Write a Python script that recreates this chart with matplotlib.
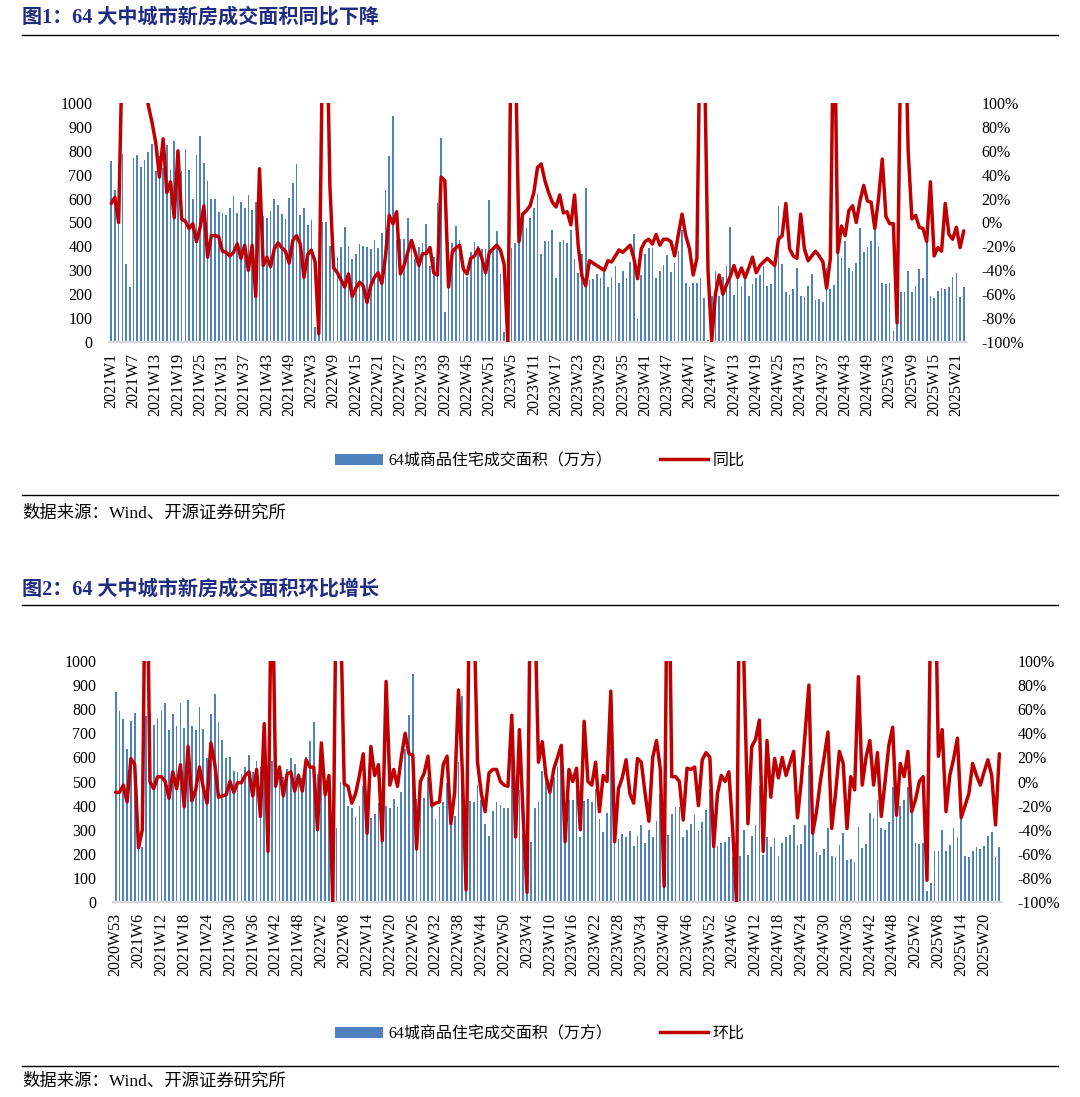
import matplotlib
matplotlib.use('Agg')
import numpy as np
import matplotlib.pyplot as plt
from matplotlib.lines import Line2D
from matplotlib.patches import Patch

plt.rcParams['font.family'] = ['Liberation Serif', 'Noto Sans CJK SC']

# 64城商品住宅成交面积（万方），按周，2021W1 起
area_2021 = [759, 636, 750, 785, 325, 229, 771, 782, 734, 761,
             793, 827, 715, 780, 729, 824, 720, 840, 730, 715,
             808, 718, 597, 782, 863, 748, 674, 597, 600, 542,
             538, 531, 562, 612, 538, 586, 560, 616, 552, 584,
             597, 528, 519, 550, 597, 573, 536, 513, 601, 667,
             745, 531]
area_2022 = [559, 490, 509, 61, 308, 500, 502, 400, 389, 354,
             397, 481, 400, 347, 367, 410, 400, 399, 390, 428,
             394, 456, 636, 778, 944, 428, 430, 431, 517, 430,
             346, 396, 413, 494, 319, 357, 580, 855, 124, 420,
             413, 485, 425, 325, 273, 378, 417, 403, 388, 389,
             594, 389]
area_2023 = [464, 283, 43, 250, 392, 413, 545, 524, 475, 517,
             559, 620, 367, 424, 424, 468, 269, 420, 428, 415,
             470, 346, 289, 369, 643, 259, 262, 283, 269, 294,
             231, 273, 318, 245, 298, 269, 336, 450, 96, 280,
             367, 394, 394, 268, 298, 323, 362, 293, 332, 381,
             470, 245]
area_2024 = [231, 245, 248, 269, 185, 8, 192, 297, 194, 272,
             319, 481, 197, 269, 229, 266, 192, 243, 269, 280,
             318, 236, 241, 321, 570, 328, 209, 195, 220, 308,
             192, 188, 236, 285, 174, 180, 167, 310, 222, 240,
             371, 350, 424, 308, 297, 332, 478, 378, 399, 424,
             477, 399]
area_2025 = [245, 241, 245, 46, 78, 210, 210, 298, 210, 236,
             305, 269, 413, 192, 185, 213, 227, 220, 231, 273,
             290, 187, 229]
# 图2 多出的前两周
area_head = [873, 793]

# 同比（%）
yoy = [16, 21, 0, 150, 250, 300, 250, 180, 140, 115,
       98, 84, 67, 38, 70, 25, 34, 4, 60, 3,
       1, -5, -1, -16, -4, 14, -29, -11, -11, -12,
       -24, -25, -28, -25, -18, -30, -19, -40, -19, -62,
       45, -36, -29, -37, -22, -17, -21, -24, -34, -15,
       -11, -18,
       -46, -27, -23, -33, -93, 150, 200, 30,
       -38, -42, -48, -54, -43, -62, -55, -50, -53, -67,
       -53, -46, -42, -51, -28, 6, -1, 9, -43, -36,
       -25, -15, -25, -36, -26, -26, -21, -42, -44, 38,
       35, -54, -25, -21, -19, -39, -43, -30, -28, -22,
       -30, -42, -25, -22,
       -19, -23, -35, -100, 200, 150,
       -16, 7, 10, 14, 25, 46, 49, 35, 25, 17,
       13, 23, 8, 9, -2, 23, -20, -45, -53, -32,
       -34, -36, -38, -40, -32, -33, -28, -23, -25, -22,
       -19, -30, -47, -22, -16, -14, -18, -10, -19, -14,
       -14, -16, -28, -10, 7, -11,
       -22, -44, -30, 200,
       150, -40, -99, -60, -44, -60, -52, -45, -36, -46,
       -38, -46, -38, -29, -42, -36, -33, -30, -33, -36,
       -14, -11, 16, -22, -28, -30, 7, -22, -32, -28,
       -24, -28, -33, -55, -30, 200, -25, -3, -11, 10,
       14, 0, 18, 31, 18, 17, -5, 20,
       53, 5, -1, -1, -84, 150, 200, 60, 3, 6,
       -4, -5, -16, 34, -28, -21, -24, 16, -10, -14,
       -4, -21, -7]

# 环比（%），2020W53 起
wow = [-9, -9, -3, -17, 19, 14, -55, -40, 250, 0,
       -6, 4, 4, 0, -14, 8, -6, 14, -21, 29,
       -16, -7, 12, -5, -18, 32, 15, -13, -12, -11,
       0, -9, -1, -1, 5, 8, -12, 10, -29, 48,
       -58, 200, -4, 12, -12, 6, 8, -8, 5, -8,
       18, 12, 12, -40, 32, -11, 5, -100, 200, 150,
       -2, -4, -18, -10, 5, 23, -43, 29, 5, 14,
       -49, 83, -3, 10, -4, 20, 40, 23, 22, -56,
       0, 7, 21, -20, -18, -17, 14, 21, -35, -9,
       76, 10, -90, 200, 150, 16, -10, -25, 7, 10,
       10, 0, -3, -4, 55, -46, 43, -30, -92, 200,
       150, 16, 33, 4, -9, 10, 20, 30, -50, 10,
       0, 11, -40, 50, 0, -3, 16, -25, 5, 0,
       75, -50, -6, 3, 18, -10, -18, 19, 16, -10,
       -33, 20, 34, 10, -87, 250, 4, 4, 0, -32,
       11, 10, 12, -20, 18, 24, 20, -54, -10, 5,
       0, 8, -40, -100, 250, 90, -35, 29, 35, 51,
       -58, 34, -13, 19, 3, 20, 5, 15, 25, -30,
       0, 40, 80, -43, -25, 0, 20, 41, -39, -10,
       25, 15, -39, 4, -7, 87, -3, 20, 34, -3,
       24, -29, 0, 30, 45, -28, 15, 4, 25, -25,
       -15, 0, 4, -82, 150, 200, 21, 43, -25, 5,
       19, 36, -30, -20, -10, 15, 5, -3, 8, 18,
       5, -36, 23]

area = area_2021 + area_2022 + area_2023 + area_2024 + area_2025

BLUE = '#4F81BD'
RED = '#C00000'
NAVY = '#1F2C82'
W, H = 1080, 1097


def week_labels(year, week, n):
    out = []
    for _ in range(n):
        out.append('{}W{}'.format(year, week))
        week += 1
        if week > (53 if year == 2020 else 52):
            year += 1
            week = 1
    return out


fig = plt.figure(figsize=(W / 100, H / 100), dpi=100)


def px_axes(x0, y0, x1, y1):
    return fig.add_axes([x0 / W, 1 - y1 / H, (x1 - x0) / W, (y1 - y0) / H])


def draw_chart(box, bars, line, labels, pad):
    ax = px_axes(*box)
    n = len(bars)
    x = np.arange(n)
    ax.bar(x, bars, width=0.45, color=BLUE, linewidth=0)
    ax.set_xlim(-pad, n - 1 + pad)
    ax.set_ylim(0, 1000)
    ax.set_yticks(range(0, 1001, 100))
    ax.set_xticks(x[::6])
    ax.set_xticklabels(labels[::6], rotation=90)
    ax.tick_params(axis='x', length=0, pad=8, labelsize=11.5)
    ax.tick_params(axis='y', length=0, pad=12, labelsize=11.5)
    for s in ax.spines.values():
        s.set_visible(False)
    ax.spines['bottom'].set_visible(True)
    ax.spines['bottom'].set_color('#D9D9D9')
    ax.spines['bottom'].set_linewidth(1.6)

    ax2 = ax.twinx()
    ax2.plot(x, line, color=RED, lw=2.5, solid_joinstyle='round',
             solid_capstyle='round')
    ax2.set_ylim(-100, 100)
    ax2.set_yticks(range(-100, 101, 20))
    ax2.set_yticklabels(['{}%'.format(v) for v in range(-100, 101, 20)])
    ax2.tick_params(axis='y', length=0, pad=11, labelsize=11.5)
    for s in ax2.spines.values():
        s.set_visible(False)
    return ax


def header(y_title, y_rule, text):
    fig.text(22 / W, 1 - y_title / H, text, fontsize=14.5, fontweight='bold',
             color=NAVY, va='center', ha='left')
    fig.add_artist(Line2D([22 / W, 1058 / W], [1 - y_rule / H] * 2,
                          color='black', lw=1))


def footer(y_rule, y_text):
    fig.add_artist(Line2D([22 / W, 1058 / W], [1 - y_rule / H] * 2,
                          color='black', lw=1))
    fig.text(22 / W, 1 - y_text / H, '数据来源：Wind、开源证券研究所',
             fontsize=12.5, va='center', ha='left')


def legend(y, line_name):
    handles = [Patch(facecolor=BLUE, edgecolor='none'),
               Line2D([], [], color=RED, lw=2.5)]
    fig.legend(handles, ['64城商品住宅成交面积（万方）', line_name],
               loc='center', bbox_to_anchor=(540 / W, 1 - y / H), ncol=2,
               frameon=False, fontsize=11.5, handlelength=3.0, handleheight=0.7,
               handletextpad=0.3, columnspacing=3.0)


# 图1
header(18, 35, '图1：64 大中城市新房成交面积同比下降')
draw_chart((109, 103, 966, 342), area, yoy, week_labels(2021, 1, len(area)), 0.6)
legend(461, '同比')
footer(495, 514)

# 图2
area2 = area_head + area
header(590, 605, '图2：64 大中城市新房成交面积环比增长')
draw_chart((113, 661, 1002, 902), area2, wow, week_labels(2020, 53, len(area2)), 0.7)
legend(1034, '环比')
footer(1066, 1082)

fig.savefig('out.png', dpi=100)
